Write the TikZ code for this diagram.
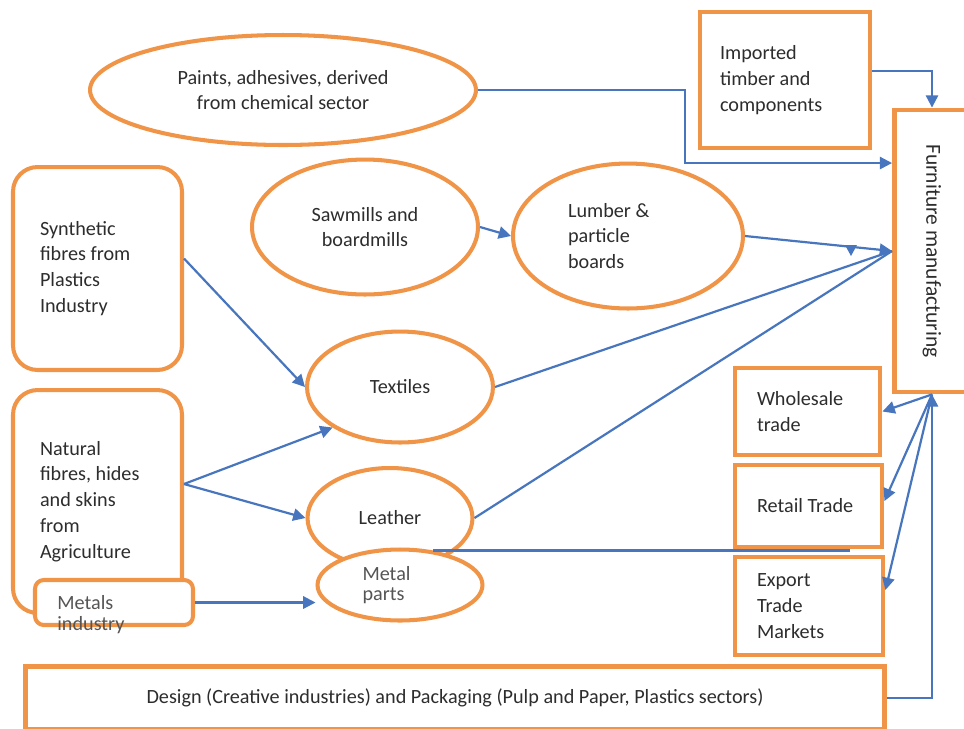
\documentclass[tikz,border=0pt]{standalone}
\usepackage{fontspec}
\setmainfont{Carlito}
\usetikzlibrary{shapes.geometric,arrows.meta}
\definecolor{borange}{RGB}{240,148,72}
\definecolor{fblue}{RGB}{72,118,190}
\definecolor{ink}{RGB}{45,45,45}
\definecolor{inkgray}{RGB}{85,85,85}
\begin{document}
\begin{tikzpicture}[x=0.02cm,y=-0.02cm]
  \tikzset{base/.style={draw=borange,fill=white,text=ink,font=\fontsize{11.5}{14.7}\selectfont,inner sep=0pt},
    ov/.style={base,ellipse,line width=2.3pt,align=flush center},
    bx/.style={base,rectangle,line width=2.8pt,align=flush left},
    rbx/.style={base,rectangle,rounded corners=14pt,line width=2.3pt,align=flush left},
    flow/.style={draw=fblue,line width=1.25pt,-{Triangle[length=7pt,width=7pt]}},
    ln/.style={draw=fblue,line width=1.25pt}}
  \useasboundingbox (0,0) rectangle (964,728);
  \clip (0,0) rectangle (964,728);
  \fill[white] (0,0) rectangle (964,728);
  \node[ov,minimum width=7.72cm,minimum height=2.2cm] (paints) at (283,90) {Paints, adhesives, derived\\from chemical sector};
  \node[bx,minimum width=3.4cm,minimum height=2.72cm,text width=2.6cm] (imp) at (785,80) {Imported\\timber and\\components};
  \node[bx,minimum width=1.5cm,minimum height=5.64cm,font=\fontsize{12.2}{14.7}\selectfont] (furn) at (932,251) {\rotatebox{-90}{Furniture manufacturing}};
  \node[rbx,minimum width=3.38cm,minimum height=4.06cm,text width=2.3cm] (syn) at (97.5,268.5) {Synthetic\\fibres from\\Plastics\\Industry};
  \node[rbx,minimum width=3.38cm,minimum height=4.46cm,text width=2.3cm] (nat) at (97.5,501.5) {Natural\\fibres, hides\\and skins\\from\\Agriculture};
  \node[rbx,rounded corners=5pt,minimum width=3.16cm,minimum height=0.9cm] (metind) at (114,602.5) {};
  \node[text=inkgray,font=\fontsize{11.5}{12}\selectfont,inner sep=0pt,align=flush left,anchor=west] (metindtxt) at (57,615) {Metals\\industry};
  \node[ov,minimum width=4.52cm,minimum height=2.7cm] (saw) at (365,227) {Sawmills and\\boardmills};
  \node[ov,minimum width=4.6cm,minimum height=2.9cm,text width=2.4cm,align=flush left] (lumb) at (628,236) {Lumber \&\\particle\\boards};
  \node[ov,minimum width=3.72cm,minimum height=2.22cm] (textiles) at (400,387) {Textiles};
  \node[ov,minimum width=3.3cm,minimum height=2.0cm] (leath) at (390,518) {Leather};
  \node[ov,minimum width=3.3cm,minimum height=1.42cm,text width=1.5cm,align=flush left,text=inkgray,font=\fontsize{11.5}{11.5}\selectfont] (metp) at (400,585) {Metal\\parts};
  \node[bx,minimum width=2.9cm,minimum height=1.74cm,text width=2.02cm] (whole) at (807.5,411.5) {Wholesale\\trade};
  \node[bx,minimum width=2.94cm,minimum height=1.64cm,text width=2.06cm] (retail) at (808.5,506) {Retail Trade};
  \node[bx,minimum width=2.96cm,minimum height=1.96cm,text width=2.08cm] (export) at (809,606) {Export\\Trade\\Markets};
  \node[bx,minimum width=17.2cm,minimum height=1.26cm,align=flush center] (design) at (455,698) {Design (Creative industries) and Packaging (Pulp and Paper, Plastics sectors)};
  \coordinate (furnin) at ([yshift=1.76cm]furn.west);
  \coordinate (furnhub) at (furn.west);
  \coordinate (tradeend) at (850,547);
  \draw[flow] (paints.east) -- ++(207,0) |- (furnin);
  \draw[flow] ([yshift=0.18cm]imp.east) -| (furn.north);
  \draw[flow] (saw.east) -- (lumb.west);
  \draw[flow] (lumb.east) -- (furnhub);
  \fill[fblue] (845,245) -- (857,245) -- (851,256) -- cycle;
  \draw[ln] (textiles.east) -- (furnhub);
  \draw[ln] (leath.east) -- (furnhub);
  \draw[ln] (metp.46) -- (metp.46 -| tradeend);
  \draw[flow] ([yshift=0.2cm]syn.east) -- (textiles.west);
  \draw[flow] ([yshift=0.35cm]nat.east) -- (textiles.211);
  \draw[flow] ([yshift=0.35cm]nat.east) -- (leath.west);
  \draw[flow] (metind.east) -- (metind.east -| metp.west);
  \draw[flow] (furn.south) -- (whole.east);
  \draw[flow] (furn.south) -- ([yshift=0.1cm]retail.east);
  \draw[flow] (furn.south) -- ([yshift=0.32cm]export.east);
  \draw[flow] (design.east) -| (furn.south);
\end{tikzpicture}
\end{document}
